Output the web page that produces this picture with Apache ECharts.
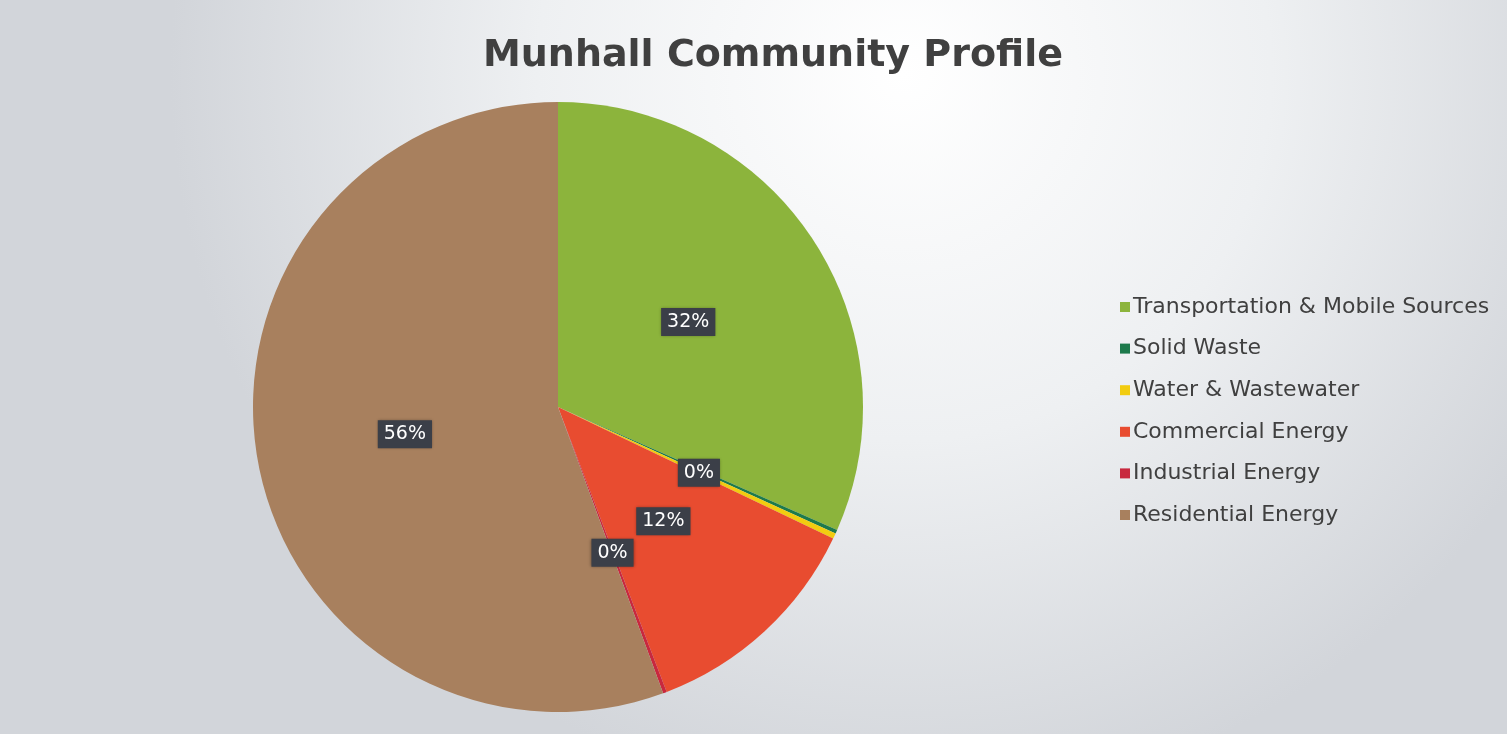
<!DOCTYPE html>
<html><head><meta charset="utf-8">
<script src="https://cdn.jsdelivr.net/npm/echarts@6/dist/echarts.min.js"></script>
<style>html,body{margin:0;padding:0;}#c{width:1507px;height:734px;}</style>
</head><body><div id="c"></div>
<script>
const categories = ["Transportation & Mobile Sources","Solid Waste","Water & Wastewater","Commercial Energy","Industrial Energy","Residential Energy"];
const values = [31.6, 0.2, 0.3, 12.1, 0.2, 55.6];
const colors = ["#8cb43c","#1d7a4c","#f2cc10","#e84c30","#c8283e","#a8805e"];
const showLabel = [true, false, true, true, true, true];
const titleText = "Munhall Community Profile";

const chart = echarts.init(document.getElementById('c'));
chart.setOption({
  backgroundColor: {
    type: 'radial', x: 0.6, y: 0.1, r: 1.0,
    colorStops: [{offset:0,color:'#ffffff'},{offset:0.5,color:'#eef0f2'},{offset:1,color:'#d2d5da'}]
  },
  title: {
    text: titleText, left: 768, top: 32, textAlign: 'center',
    textStyle: {fontFamily:'DejaVu Sans', fontSize: 38, fontWeight: 'bold', color: '#404040'}
  },
  legend: {
    orient: 'vertical', left: 1115, top: 290, itemWidth: 10, itemHeight: 10, itemGap: 17.6,
    icon: 'rect',
    textStyle: {fontFamily:'DejaVu Sans', fontSize: 22, color: '#404040', padding:[0,0,0,-2], lineHeight: 24},
    data: categories
  },
  series: [{
    type: 'pie', center: [558, 407], radius: 305, startAngle: 90, clockwise: true,
    avoidLabelOverlap: false, animation: false,
    label: {
      position: 'inside', color: '#ffffff', fontFamily:'DejaVu Sans', fontSize: 19,
      backgroundColor: '#3b3f48', padding: [5,6,4,6],
      shadowColor:'rgba(0,0,0,0.4)', shadowBlur: 3,
      formatter: p => Math.round(p.percent) + '%'
    },
    labelLine: {show:false},
    itemStyle: {borderWidth: 0},
    data: categories.map((n,i)=>({name:n, value:values[i], itemStyle:{color:colors[i]}, label:{show:showLabel[i]}}))
  }]
});
</script></body></html>
